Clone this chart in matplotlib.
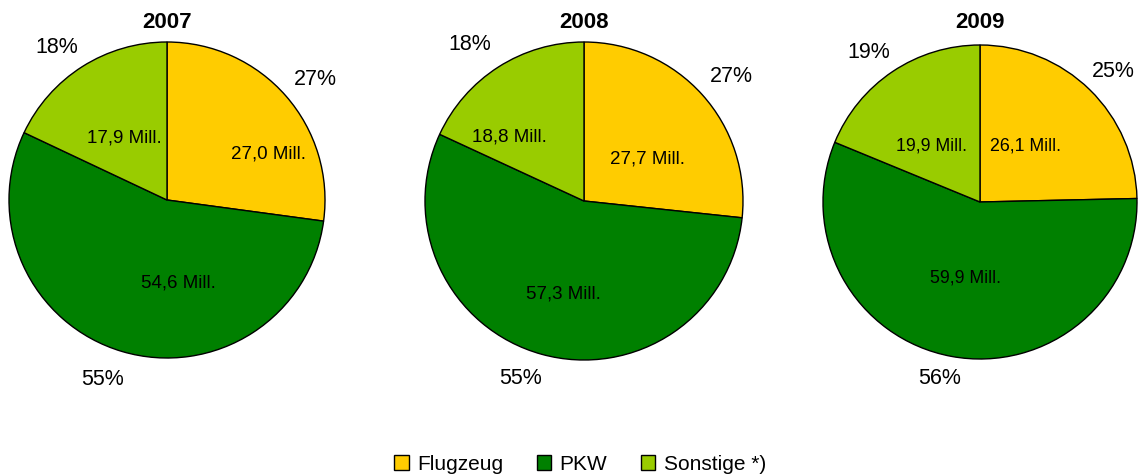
import matplotlib
matplotlib.use("Agg")
import matplotlib.pyplot as plt
from matplotlib.patches import Patch
import numpy as np

plt.rcParams['font.family'] = ['Liberation Sans', 'DejaVu Sans']

years = ["2007", "2008", "2009"]
categories = ["Flugzeug", "PKW", "Sonstige *)"]
flugzeug = [27.0, 27.7, 26.1]
pkw = [54.6, 57.3, 59.9]
sonstige = [17.9, 18.8, 19.9]
percent_labels = [["27%", "55%", "18%"], ["27%", "55%", "18%"], ["25%", "56%", "19%"]]
colors = ["#FFCC00", "#008000", "#99CC00"]

W, H = 1139, 477
fig = plt.figure(figsize=(W / 100, H / 100), dpi=100)

# pie geometry in pixels (center x, center y from top, radius)
geom = [(167, 201, 158), (584, 202, 159), (980, 203, 157)]
# label positions (in units of radius, relative to center)
inner_pos = [
    [(0.64, 0.30), (0.07, -0.52), (-0.27, 0.40)],
    [(0.40, 0.27), (-0.13, -0.58), (-0.47, 0.41)],
    [(0.29, 0.36), (-0.09, -0.48), (-0.31, 0.36)],
]
outer_pos = [
    [(0.94, 0.77), (-0.41, -1.13), (-0.70, 0.97)],
    [(0.93, 0.79), (-0.40, -1.11), (-0.72, 0.99)],
    [(0.85, 0.84), (-0.26, -1.12), (-0.71, 0.96)],
]
inner_size = [13.5, 13.5, 12.8]

for i, year in enumerate(years):
    cx, cy, r = geom[i]
    ax = fig.add_axes([(cx - r) / W, (H - cy - r) / H, 2 * r / W, 2 * r / H])
    vals = [flugzeug[i], pkw[i], sonstige[i]]
    wedges, _ = ax.pie(vals, colors=colors, startangle=90, counterclock=False,
                       wedgeprops=dict(edgecolor="black", linewidth=1.0))
    for j, v in enumerate(vals):
        px, py = inner_pos[i][j]
        ax.text(px, py, f"{v:.1f}".replace(".", ",") + " Mill.",
                ha="center", va="center", fontsize=inner_size[i])
        ox, oy = outer_pos[i][j]
        ax.text(ox, oy, percent_labels[i][j], ha="center", va="center",
                fontsize=15.5, clip_on=False)
    ax.set_xlim(-1, 1)
    ax.set_ylim(-1, 1)
    ax.set_aspect("auto")
    ax.axis("off")
    fig.text(cx / W, 1 - 22 / H, year, ha="center", va="center", fontsize=16,
             fontweight="bold")

handles = [Patch(facecolor=c, edgecolor="black", linewidth=1.0) for c in colors]
fig.legend(handles, categories, loc="center", bbox_to_anchor=(580 / W, 1 - 465 / H),
           ncol=3, frameon=False, fontsize=15, handlelength=0.7, handleheight=0.7,
           handletextpad=0.4, columnspacing=1.6)

fig.savefig("out.png", dpi=100)
